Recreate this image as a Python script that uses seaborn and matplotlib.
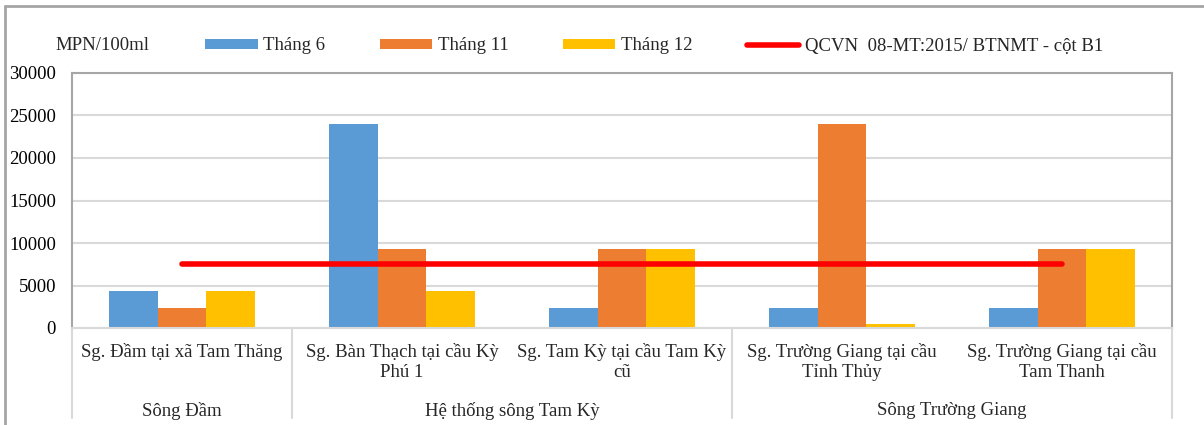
import numpy as np
import pandas as pd
import matplotlib
matplotlib.use("Agg")
import matplotlib.pyplot as plt
from matplotlib.lines import Line2D
from matplotlib.patches import Patch
import seaborn as sns

categories = [
    "Sg. Đầm tại xã Tam Thăng",
    "Sg. Bàn Thạch tại cầu Kỳ\nPhú 1",
    "Sg. Tam Kỳ tại cầu Tam Kỳ\ncũ",
    "Sg. Trường Giang tại cầu\nTỉnh Thủy",
    "Sg. Trường Giang tại cầu\nTam Thanh",
]
groups = ["Sông Đầm", "Hệ thống sông Tam Kỳ", "Sông Trường Giang"]
group_sizes = [1, 2, 2]
series_names = ["Tháng 6", "Tháng 11", "Tháng 12"]
thang6 = [4300, 24000, 2400, 2400, 2400]
thang11 = [2400, 9300, 9300, 24000, 9300]
thang12 = [4300, 4300, 9300, 430, 9300]
qcvn_label = "QCVN  08-MT:2015/ BTNMT - cột B1"
qcvn = [7500, 7500, 7500, 7500, 7500]
y_unit = "MPN/100ml"
yticks = [0, 5000, 10000, 15000, 20000, 25000, 30000]
colors = ["#5B9BD5", "#ED7D31", "#FFC000"]
line_color = "#FF0000"

df = pd.DataFrame({
    "cat": categories * 3,
    "series": sum([[s] * len(categories) for s in series_names], []),
    "value": thang6 + thang11 + thang12,
})

sns.set_theme(style="white")
plt.rcParams["font.family"] = ["Liberation Serif", "DejaVu Serif"]
FS = 13.5

W, H = 1204, 425
fig = plt.figure(figsize=(W / 100, H / 100), dpi=100)
x0, x1, y0, y1 = 72, 1172, 73, 328
ax = fig.add_axes([x0 / W, 1 - y1 / H, (x1 - x0) / W, (y1 - y0) / H])

sns.barplot(data=df, x="cat", y="value", hue="series", order=categories,
            hue_order=series_names, palette=colors, width=0.667, ax=ax,
            saturation=1, legend=False, edgecolor="none", linewidth=0)
ax.plot(np.arange(len(categories)), qcvn, color=line_color, lw=4,
        solid_capstyle="round", zorder=5)

ax.set_ylim(0, 30000)
ax.set_xlim(-0.5, len(categories) - 0.5)
ax.set_yticks(yticks)
ax.set_yticklabels([str(v) for v in yticks], fontsize=FS, color="#000000")
ax.tick_params(axis="y", length=0, pad=11.5)
ax.set_xticks([])
ax.set_xlabel("")
ax.set_ylabel("")
ax.yaxis.grid(True, color="#d9d9d9", lw=1.5)
ax.set_axisbelow(True)
for s in ["left", "top", "right"]:
    ax.spines[s].set_color("#a6a6a6")
    ax.spines[s].set_linewidth(1.5)
ax.spines["bottom"].set_color("#d9d9d9")
ax.spines["bottom"].set_linewidth(1.5)

# category labels
for i, c in enumerate(categories):
    ax.text(i, -0.06, c, transform=ax.get_xaxis_transform(), ha="center",
            va="top", fontsize=FS, linespacing=1.2)
# group labels and separators
bot = 418
ybot = -(bot - y1) / (y1 - y0)
start = 0
bounds = [-0.5]
for g, n in zip(groups, group_sizes):
    center = start + (n - 1) / 2
    ax.text(center, -0.29, g, transform=ax.get_xaxis_transform(), ha="center",
            va="top", fontsize=FS)
    start += n
    bounds.append(start - 0.5)
for b in bounds:
    ax.add_line(Line2D([b, b], [0, ybot], transform=ax.get_xaxis_transform(),
                       color="#d9d9d9", lw=1.5, clip_on=False))

# outer frame (top and left)
fig.add_artist(Line2D([5 / W, 1], [1 - 6 / H, 1 - 6 / H], color="#a6a6a6", lw=2))
fig.add_artist(Line2D([5 / W, 5 / W], [0, 1 - 6 / H], color="#a6a6a6", lw=2))

# legend
fig.text(55 / W, 1 - 46 / H, y_unit, fontsize=FS, va="center", ha="left")
handles = [Patch(facecolor=c, edgecolor="none") for c in colors]
handles.append(Line2D([], [], color=line_color, lw=4, solid_capstyle="round"))
labels = series_names + [qcvn_label]
fig.legend(handles, labels, loc="center left", bbox_to_anchor=(205 / W, 1 - 46 / H),
           ncol=4, frameon=False, fontsize=FS, handlelength=2.8,
           handleheight=0.45, handletextpad=0.3, columnspacing=2.9,
           borderpad=0, borderaxespad=0)

fig.savefig("out.png", dpi=100, facecolor="white")
